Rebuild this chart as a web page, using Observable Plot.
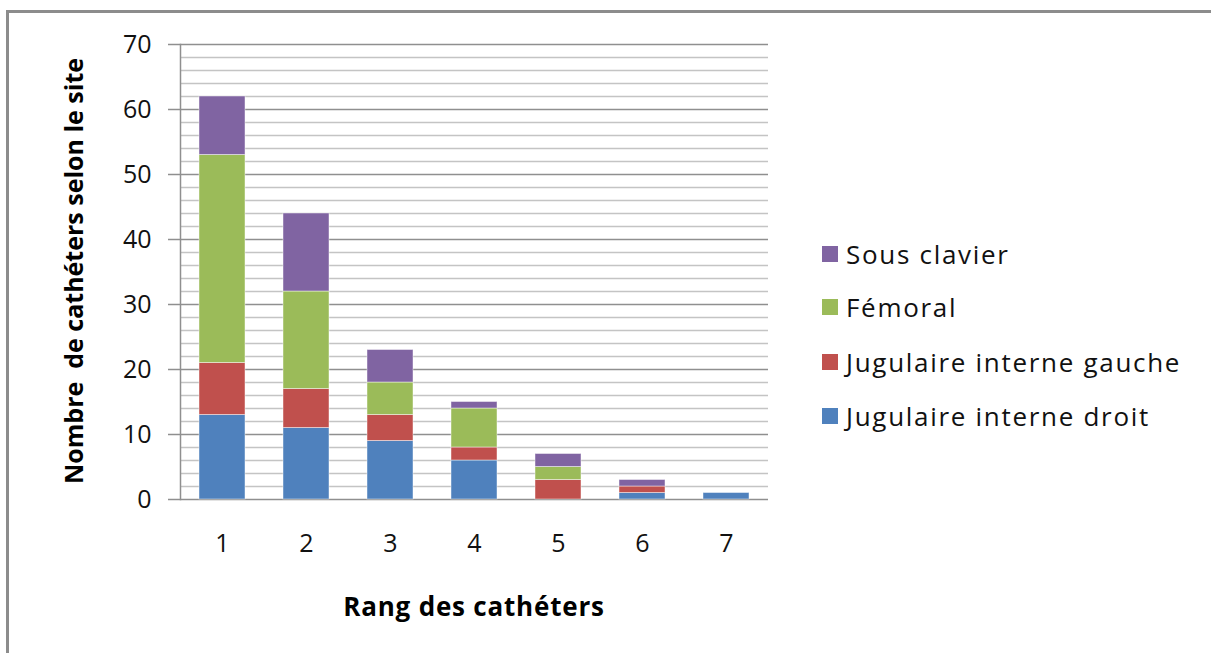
<!DOCTYPE html>
<html>
<head>
<meta charset="utf-8">
<script src="https://cdn.jsdelivr.net/npm/d3@7"></script>
<script src="https://cdn.jsdelivr.net/npm/@observablehq/plot@0.6"></script>
<style>
  html, body { margin: 0; padding: 0; background: #fff; }
  #wrap { position: relative; width: 1211px; height: 653px; overflow: hidden; font-family: "Open Sans", Lato, sans-serif; }
  #border { position: absolute; left: 6px; top: 10px; right: -10px; bottom: -10px; border-top: 3px solid #8c8c8c; border-left: 3px solid #8c8c8c; }
  #chart { position: absolute; left: 0; top: 0; }
  #chart svg { background: transparent; }
  .ytitle { position: absolute; left: 73px; top: 271px; transform: translate(-50%, -50%) rotate(-90deg); white-space: pre; font-weight: bold; font-size: 25px; color: #000; }
  .xtitle { position: absolute; left: 474px; top: 606px; transform: translate(-50%, -50%); white-space: pre; font-weight: bold; font-size: 26px; letter-spacing: 0.8px; color: #000; }
  .legend { position: absolute; left: 822px; top: 0; }
  .item { position: absolute; left: 0; display: flex; align-items: center; white-space: pre; font-size: 26px; letter-spacing: 1.7px; color: #111; transform: translateY(-50%); }
  .sw { width: 16px; height: 16px; margin-right: 8px; flex: none; }
</style>
</head>
<body>
<div id="wrap">
  <div id="border"></div>
  <div id="chart"></div>
  <div class="ytitle">Nombre  de cathéters selon le site</div>
  <div class="xtitle">Rang des cathéters</div>
  <div class="legend" id="legend"></div>
</div>
<script>
const ranks = [1, 2, 3, 4, 5, 6, 7];
const sites = ["Jugulaire interne droit", "Jugulaire interne gauche", "Fémoral", "Sous clavier"];
const colors = ["#4F81BD", "#C0504D", "#9BBB59", "#8064A2"];
const jugulaireDroit  = [13, 11, 9, 6, 0, 1, 1];
const jugulaireGauche = [8, 6, 4, 2, 3, 1, 0];
const femoral         = [32, 15, 5, 6, 2, 0, 0];
const sousClavier     = [9, 12, 5, 1, 2, 1, 0];
const yMajorTicks = [0, 10, 20, 30, 40, 50, 60, 70];
const legendLabels = ["Sous clavier", "Fémoral", "Jugulaire interne gauche", "Jugulaire interne droit"];

const series = [jugulaireDroit, jugulaireGauche, femoral, sousClavier];
const data = [];
sites.forEach((s, i) => ranks.forEach((r, j) => data.push({rank: r, site: s, value: series[i][j]})));
const minorTicks = d3.range(0, 71, 2).filter(v => v % 10 !== 0);

const chart = Plot.plot({
  width: 1211,
  height: 653,
  marginLeft: 180,
  marginRight: 443,
  marginTop: 44,
  marginBottom: 154,
  style: { fontFamily: "'Open Sans', Lato, sans-serif", background: "transparent" },
  x: { domain: ranks, paddingInner: 0.45, paddingOuter: 0.225, label: null },
  y: { domain: [0, 70], label: null },
  color: { domain: sites, range: colors },
  marks: [
    Plot.ruleY(minorTicks, { stroke: "#c4c4c4", strokeWidth: 1.5 }),
    Plot.ruleY(yMajorTicks, { stroke: "#8f8f8f", strokeWidth: 1.5 }),
    Plot.barY(data, { x: "rank", y: "value", fill: "site", order: sites, stroke: "#ffffff", strokeOpacity: 0.45, strokeWidth: 1 }),
    Plot.axisY({ ticks: yMajorTicks, tickSize: 12, tickPadding: 17, fontSize: 25, stroke: "#8f8f8f", strokeWidth: 1.5, color: "#111", label: null }),
    Plot.axisX({ tickSize: 0, tickPadding: 35, fontSize: 25, color: "#111", label: null }),
    Plot.frame({ anchor: "left", stroke: "#8f8f8f", strokeWidth: 1.5 })
  ]
});
document.getElementById("chart").appendChild(chart);

const legend = document.getElementById("legend");
const rowsY = [254, 307, 362, 416];
legendLabels.forEach((lab, i) => {
  const it = document.createElement("div");
  it.className = "item";
  it.style.top = rowsY[i] + "px";
  const sw = document.createElement("span");
  sw.className = "sw";
  sw.style.background = colors[sites.indexOf(lab)];
  const tx = document.createElement("span");
  tx.textContent = lab;
  it.appendChild(sw); it.appendChild(tx);
  legend.appendChild(it);
});
</script>
</body>
</html>
